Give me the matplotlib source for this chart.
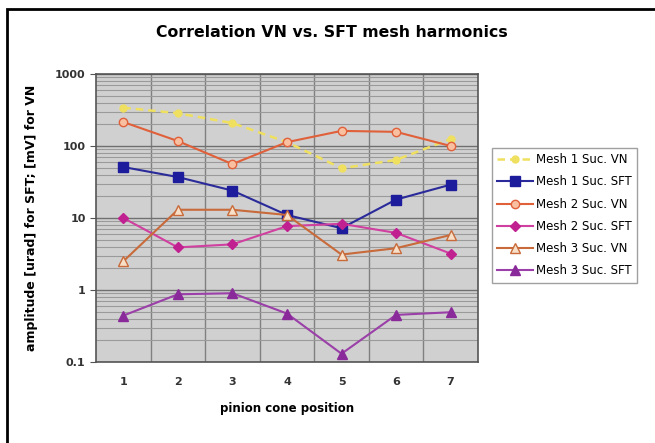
import matplotlib
matplotlib.use("Agg")
import matplotlib.pyplot as plt
from matplotlib.patches import Rectangle
from matplotlib.ticker import LogLocator, NullFormatter, FixedLocator

positions = [1, 2, 3, 4, 5, 6, 7]
mesh1_vn = [340, 285, 208, 113, 49, 64, 125]
mesh1_sft = [51, 37, 24, 11, 7.2, 18, 29]
mesh2_vn = [215, 117, 56, 113, 162, 157, 100]
mesh2_sft = [10, 3.9, 4.3, 7.7, 8.3, 6.2, 3.2]
mesh3_vn = [2.5, 13, 13, 11, 3.1, 3.8, 5.8]
mesh3_sft = [0.44, 0.87, 0.9, 0.47, 0.13, 0.45, 0.49]
yticks = [0.1, 1, 10, 100, 1000]
ytick_labels = ["0.1", "1", "10", "100", "1000"]

fig = plt.figure(figsize=(6.55, 4.43), dpi=100)
fig.patch.set_facecolor("white")
ax = fig.add_axes([0.1466, 0.183, 0.583, 0.650])
ax.set_facecolor("#d0d0d0")

ax.plot(positions, mesh1_vn, color="#f0e060", ls=(0, (3, 2)), lw=1.8,
        marker="o", ms=5, mfc="#f0e060", mec="#f0e060", label="Mesh 1 Suc. VN")
ax.plot(positions, mesh1_sft, color="#2a2a9a", lw=1.5, marker="s", ms=7,
        mfc="#1c1c9c", mec="#1c1c9c", label="Mesh 1 Suc. SFT")
ax.plot(positions, mesh2_vn, color="#e0603a", lw=1.5, marker="o", ms=6,
        mfc="#f8c0a0", mec="#e0603a", label="Mesh 2 Suc. VN")
ax.plot(positions, mesh2_sft, color="#d040a0", lw=1.5, marker="D", ms=5,
        mfc="#c02090", mec="#c02090", label="Mesh 2 Suc. SFT")
ax.plot(positions, mesh3_vn, color="#c86a3a", lw=1.5, marker="^", ms=7,
        mfc="#f8e0c8", mec="#c86a3a", label="Mesh 3 Suc. VN")
ax.plot(positions, mesh3_sft, color="#9a40a8", lw=1.5, marker="^", ms=7,
        mfc="#8a2a9a", mec="#8a2a9a", label="Mesh 3 Suc. SFT")

ax.set_yscale("log")
ax.set_ylim(0.1, 1000)
ax.set_xlim(0.5, 7.5)
ax.set_xticks(positions)
ax.set_xticklabels([str(p) for p in positions], fontsize=8, fontweight="bold", color="#333333")
ax.set_yticks(yticks)
ax.set_yticklabels(ytick_labels, fontsize=8, fontweight="bold", color="#333333")
ax.yaxis.set_minor_locator(LogLocator(base=10, subs=range(2, 10)))
ax.yaxis.set_minor_formatter(NullFormatter())
ax.xaxis.set_minor_locator(FixedLocator([1.5, 2.5, 3.5, 4.5, 5.5, 6.5]))
ax.grid(True, which="major", axis="y", color="#707070", lw=1.0)
ax.grid(True, which="minor", axis="y", color="#9a9a9a", lw=0.8)
ax.grid(True, which="minor", axis="x", color="#808080", lw=1.0)
ax.set_axisbelow(True)
ax.tick_params(axis="x", which="both", length=0, pad=11)
ax.tick_params(axis="y", which="minor", length=0)
ax.tick_params(axis="y", which="major", length=4, color="#555555")
for s in ax.spines.values():
    s.set_color("#555555")
    s.set_linewidth(1.2)

ax.set_xlabel("pinion cone position", fontsize=8.5, fontweight="bold", labelpad=11)
ax.set_ylabel("amplitude [urad] for SFT; [mV] for VN", fontsize=9, fontweight="bold", labelpad=12)
fig.text(0.507, 0.927, "Correlation VN vs. SFT mesh harmonics", ha="center", va="center",
         fontsize=11.3, fontweight="bold")

leg = fig.legend(loc="upper left", bbox_to_anchor=(0.751, 0.666), borderaxespad=0,
                 fontsize=8.5, frameon=True, fancybox=False, edgecolor="#888888",
                 borderpad=0.45, labelspacing=0.78, handlelength=3.0, handletextpad=0.3)
leg.get_frame().set_linewidth(1.0)

fig.patches.append(Rectangle((0.011, -0.01), 1.0, 0.99, transform=fig.transFigure,
                             fill=False, edgecolor="black", lw=2.0))
fig.savefig("out.png", dpi=100)
